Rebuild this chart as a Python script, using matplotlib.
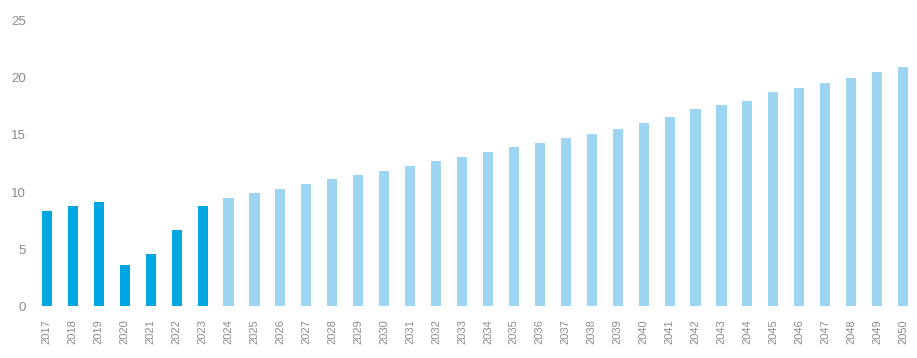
import matplotlib
matplotlib.use("Agg")
import matplotlib.pyplot as plt
import numpy as np

plt.rcParams['font.family'] = ['Liberation Sans', 'DejaVu Sans']

years = [str(y) for y in range(2017, 2051)]
values = [8.3, 8.8, 9.1, 3.6, 4.6, 6.65, 8.75, 9.5,
          9.9, 10.3, 10.7, 11.1, 11.5, 11.85, 12.3, 12.7, 13.1, 13.5, 13.9, 14.3, 14.7,
          15.1, 15.5, 16.0, 16.6, 17.3, 17.6, 17.95, 18.7, 19.1, 19.5, 20.0, 20.5, 20.9]
actual_years = 7  # 2017-2023 historic
yticks = [0, 5, 10, 15, 20, 25]

dark = '#00A6E0'
light = '#9DD5F2'
colors = [dark if i < actual_years else light for i in range(len(years))]

fig = plt.figure(figsize=(9.17, 3.58), dpi=100)
ax = fig.add_axes([0.037, 0.144, 0.962, 0.799])
x = np.arange(len(years))
ax.bar(x, values, width=0.39, color=colors, edgecolor='none')
ax.set_xlim(-0.5, len(years) - 0.5)
ax.set_ylim(0, 25)
ax.set_yticks(yticks)
ax.set_yticklabels([str(t) for t in yticks])
ax.set_xticks(x)
ax.set_xticklabels(years, rotation=90)
for s in ax.spines.values():
    s.set_visible(False)
ax.tick_params(axis='x', length=0, pad=9, labelsize=8, labelcolor='#8a8a8a')
ax.tick_params(axis='y', length=0, pad=6, labelsize=9.5, labelcolor='#8a8a8a')

fig.savefig('out.png', dpi=100)
